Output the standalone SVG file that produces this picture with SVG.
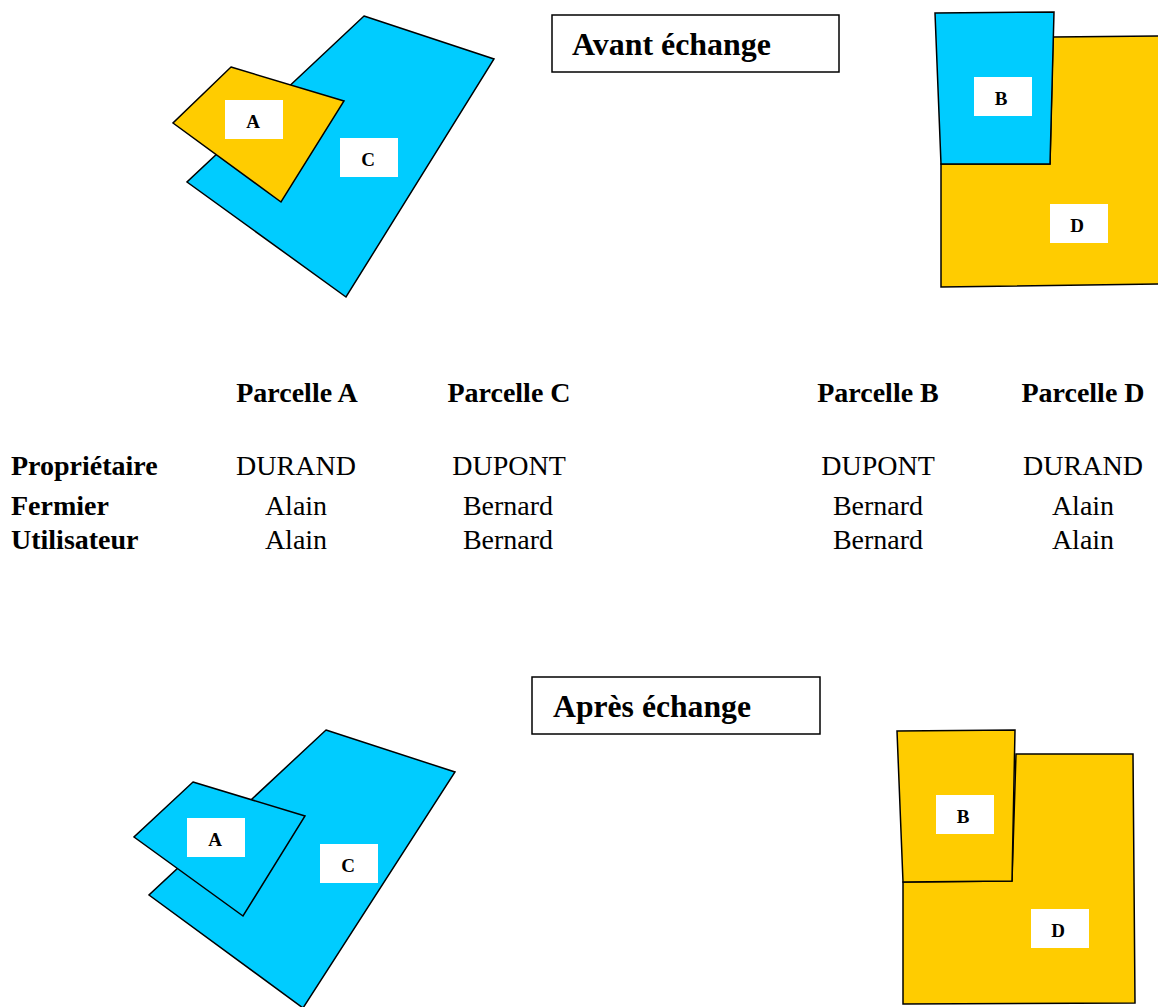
<svg xmlns="http://www.w3.org/2000/svg" width="1158" height="1007" viewBox="0 0 1158 1007">
<style>
.blue{fill:#00CCFF;stroke:#000;stroke-width:1.5;stroke-linejoin:miter}
.yel{fill:#FFCC00;stroke:#000;stroke-width:1.5}
.lb{fill:#fff}
.lt{font-family:"Liberation Serif",serif;font-weight:bold;font-size:19px;text-anchor:middle;fill:#000}
.title{font-family:"Liberation Serif",serif;font-weight:bold;font-size:31px;fill:#000}
.hd{font-family:"Liberation Serif",serif;font-weight:bold;font-size:28px;text-anchor:middle;fill:#000}
.rl{font-family:"Liberation Serif",serif;font-weight:bold;font-size:28px;fill:#000}
.val{font-family:"Liberation Serif",serif;font-size:28px;text-anchor:middle;fill:#000}
.box{fill:#fff;stroke:#000;stroke-width:1.5}
</style>
<rect width="1158" height="1007" fill="#fff"/>
<g id="before-left">
<polygon class="blue" points="364,16 494,59 346,297 187,182"/>
<polygon class="yel" points="231,67 344,101 281,202 173,123"/>
<rect class="lb" x="225" y="100" width="58" height="39"/>
<text class="lt" x="253" y="128">A</text>
<rect class="lb" x="340" y="138" width="58" height="39"/>
<text class="lt" x="368" y="166">C</text>
</g>
<g id="before-right">
<polygon class="yel" points="941,164 1050,164 1053,37 1162,36 1162,284 941,287"/>
<polygon class="blue" points="935,13 1054,12 1050,164 941,164"/>
<rect class="lb" x="974" y="77" width="58" height="39"/>
<text class="lt" x="1001" y="105">B</text>
<rect class="lb" x="1050" y="204" width="58" height="39"/>
<text class="lt" x="1077" y="232">D</text>
</g>
<g id="title-avant">
<rect class="box" x="552" y="15" width="287" height="57"/>
<text class="title" x="572" y="55" textLength="199" lengthAdjust="spacingAndGlyphs">Avant échange</text>
</g>
<g id="table">
<text class="hd" x="297" y="402">Parcelle A</text>
<text class="hd" x="509" y="402">Parcelle C</text>
<text class="hd" x="878" y="402">Parcelle B</text>
<text class="hd" x="1083" y="402">Parcelle D</text>
<text class="rl" x="11" y="475">Propriétaire</text>
<text class="rl" x="11" y="515">Fermier</text>
<text class="rl" x="11" y="549">Utilisateur</text>
<text class="val" x="296" y="475">DURAND</text>
<text class="val" x="509" y="475">DUPONT</text>
<text class="val" x="878" y="475">DUPONT</text>
<text class="val" x="1083" y="475">DURAND</text>
<text class="val" x="296" y="515">Alain</text>
<text class="val" x="508" y="515">Bernard</text>
<text class="val" x="878" y="515">Bernard</text>
<text class="val" x="1083" y="515">Alain</text>
<text class="val" x="296" y="549">Alain</text>
<text class="val" x="508" y="549">Bernard</text>
<text class="val" x="878" y="549">Bernard</text>
<text class="val" x="1083" y="549">Alain</text>
</g>
<g id="title-apres">
<rect class="box" x="532" y="677" width="288" height="57"/>
<text class="title" x="553" y="717" textLength="198" lengthAdjust="spacingAndGlyphs">Après échange</text>
</g>
<g id="after-left">
<polygon class="blue" points="326,730 455,772 303,1008 149,895"/>
<polygon class="blue" points="193,782 305,816 243,916 134,837"/>
<rect class="lb" x="187" y="818" width="58" height="39"/>
<text class="lt" x="215" y="846">A</text>
<rect class="lb" x="320" y="844" width="58" height="39"/>
<text class="lt" x="348" y="872">C</text>
</g>
<g id="after-right">
<polygon class="yel" points="903,882 1012,881 1016,754 1133,754 1135,1003 903,1004"/>
<polygon class="yel" points="897,731 1015,730 1012,881 903,882"/>
<rect class="lb" x="936" y="795" width="58" height="39"/>
<text class="lt" x="963" y="823">B</text>
<rect class="lb" x="1031" y="909" width="58" height="39"/>
<text class="lt" x="1058" y="937">D</text>
</g>
</svg>
